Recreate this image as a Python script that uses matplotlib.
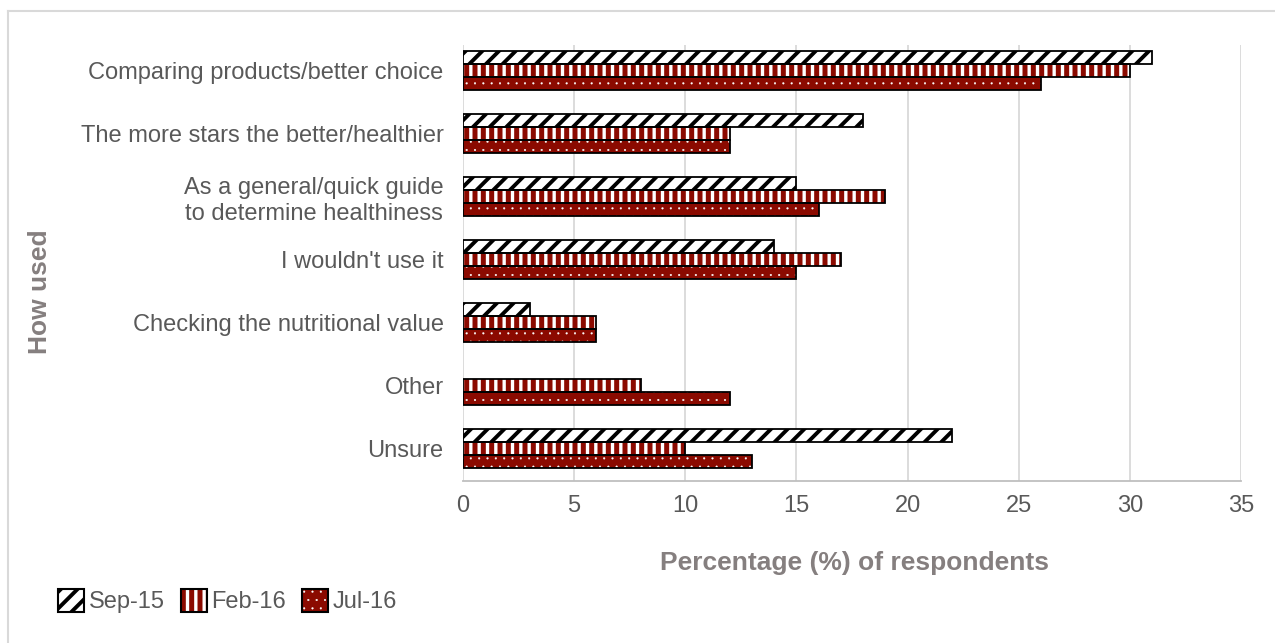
import matplotlib
matplotlib.use("Agg")
import matplotlib.pyplot as plt
import matplotlib.patches as mpatches
from matplotlib.legend_handler import HandlerTuple
import numpy as np

plt.rcParams['font.family'] = ['Liberation Sans', 'DejaVu Sans']
plt.rcParams['hatch.linewidth'] = 2.8

categories = [
    "Comparing products/better choice",
    "The more stars the better/healthier",
    "As a general/quick guide\nto determine healthiness",
    "I wouldn't use it",
    "Checking the nutritional value",
    "Other",
    "Unsure",
]
series_names = ["Sep-15", "Feb-16", "Jul-16"]
sep15 = [31, 18, 15, 14, 3, 0, 22]
feb16 = [30, 12, 19, 17, 6, 8, 10]
jul16 = [26, 12, 16, 15, 6, 12, 13]
x_ticks = [0, 5, 10, 15, 20, 25, 30, 35]

dark_red = '#8b0a00'
styles = [
    dict(face='white', hatch_col='black', hatch='//', hlw=2.8),
    dict(face=dark_red, hatch_col='white', hatch='||', hlw=2.4),
    dict(face=dark_red, hatch_col='white', hatch='..', hlw=0.3),
]


def with_hatch_lw(artist, lw):
    # set the hatch width on the artist and also while it is drawn
    if hasattr(artist, 'set_hatch_linewidth'):
        artist.set_hatch_linewidth(lw)
    orig = artist.draw

    def draw(renderer):
        with plt.rc_context({'hatch.linewidth': lw}):
            orig(renderer)
    artist.draw = draw
    return artist


fig = plt.figure(figsize=(12.75, 6.43), dpi=100)
ax = fig.add_axes([463/1275, 1 - 481/643, (1241-463)/1275, (481-45)/643])

y = np.arange(len(categories))
h = 0.205
offsets = [-h, 0, h]
for vals, off, st in zip([sep15, feb16, jul16], offsets, styles):
    vals = np.array(vals, dtype=float)
    keep = vals > 0
    # hatch drawn in its own colour, then a black outline on top
    with plt.rc_context({'hatch.linewidth': st['hlw']}):
        bars = ax.barh(y[keep] + off, vals[keep], height=h, color=st['face'],
                       edgecolor=st['hatch_col'], hatch=st['hatch'], linewidth=0, zorder=3)
    for b in bars:
        with_hatch_lw(b, st['hlw'])
    ax.barh(y[keep] + off, vals[keep], height=h, color='none', edgecolor='black',
            linewidth=1.3, zorder=4)

ax.set_ylim(6.51, -0.41)
ax.set_xlim(0, 35)
ax.set_xticks(x_ticks)
ax.set_yticks(y)
ax.set_yticklabels(categories)
ax.tick_params(axis='both', length=0, labelsize=17, colors='#595959')
ax.tick_params(axis='x', pad=10)
ax.tick_params(axis='y', pad=14)
for lab in ax.get_yticklabels():
    lab.set_horizontalalignment('right')
    lab.set_multialignment('center')
ax.grid(axis='x', color='#d9d9d9', linewidth=1.3, zorder=0)
for s in ['top', 'right', 'left']:
    ax.spines[s].set_visible(False)
ax.spines['bottom'].set_color('#bfbfbf')
ax.spines['bottom'].set_linewidth(1.3)

fig.text(855/1275, 1 - 563/643, "Percentage (%) of respondents", ha='center', va='center',
         fontsize=19, fontweight='bold', color='#857f7f')
fig.text(40/1275, 1 - 292/643, "How used", ha='center', va='center', rotation=90,
         fontsize=19, fontweight='bold', color='#857f7f')

# legend: hatched patch with a black outline laid over it
handles = []
for st in styles:
    fill = mpatches.Patch(facecolor=st['face'], edgecolor=st['hatch_col'],
                          hatch=st['hatch'], linewidth=0)
    outline = mpatches.Patch(facecolor='none', edgecolor='black', linewidth=1.5)
    handles.append((fill, outline))
leg = fig.legend(handles, series_names, loc='center left',
                 bbox_to_anchor=(58/1275, 1 - 601/643), ncol=3, frameon=False,
                 fontsize=17, handlelength=1.1, handleheight=1.15, handletextpad=0.2,
                 columnspacing=0.68, borderpad=0, borderaxespad=0,
                 labelcolor='#595959', handler_map={tuple: HandlerTuple(ndivide=1)})
# legend handles are copies, so patch them after creation
leg_patches = [p for p in leg.findobj(mpatches.Rectangle) if p.get_hatch()]
for p, st in zip(leg_patches, styles):
    with_hatch_lw(p, st['hlw'])

# outer light frame (only left and top visible)
fig.add_artist(plt.Line2D([8/1275, 8/1275], [0, 1 - 11/643], transform=fig.transFigure,
                          color='#d9d9d9', linewidth=1.5))
fig.add_artist(plt.Line2D([8/1275, 1], [1 - 11/643, 1 - 11/643], transform=fig.transFigure,
                          color='#d9d9d9', linewidth=1.5))

fig.savefig("out.png", dpi=100)
